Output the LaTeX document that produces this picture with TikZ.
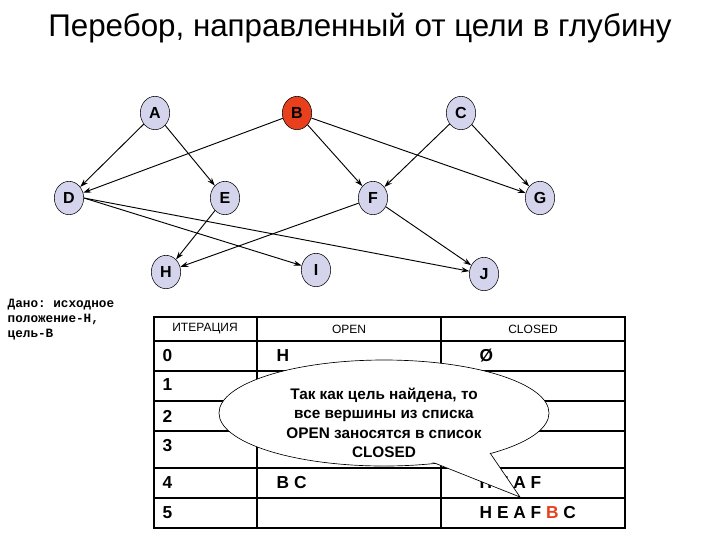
\documentclass[tikz,border=0pt]{standalone}
\usepackage{fontspec}
\setmainfont{Liberation Sans}
\setmonofont{Liberation Mono}
\usetikzlibrary{arrows.meta,shapes.geometric}
\definecolor{nodefill}{HTML}{D4D4EC}
\definecolor{goal}{HTML}{E8401C}
\begin{document}
\begin{tikzpicture}[x=0.75pt,y=-0.75pt,
  vtx/.style={ellipse,draw,fill=nodefill,minimum width=22pt,minimum height=25pt,inner sep=0pt,font=\bfseries\fontsize{12}{12}\selectfont},
  edge/.style={-{Stealth[length=6pt,width=4pt]},line width=0.7pt},
  cell/.style={anchor=west,font=\bfseries\fontsize{13}{13}\selectfont},
  hdr/.style={font=\fontsize{9}{9}\selectfont}]
\useasboundingbox (0,0) rectangle (720,540);
\node (title) at (360,28) {\fontsize{23.5}{26}\selectfont Перебор, направленный от цели в глубину};
\node[vtx] (A) at (155,113) {A};
\node[vtx,fill=goal] (B) at (297,113) {B};
\node[vtx] (C) at (461,113) {C};
\node[vtx] (D) at (69,198) {D};
\node[vtx] (E) at (225,198) {E};
\node[vtx] (F) at (373,198) {F};
\node[vtx] (G) at (540,198) {G};
\node[vtx] (H) at (166,272) {H};
\node[vtx] (I) at (316,270) {I};
\node[vtx] (J) at (484,274) {J};
\draw[edge] (A)--(D); \draw[edge] (A)--(E);
\draw[edge] (B)--(D); \draw[edge] (B)--(F); \draw[edge] (B)--(G);
\draw[edge] (C)--(F); \draw[edge] (C)--(G);
\draw[edge] (D.east)--(I); \draw[edge] (D.east)--(J);
\draw[edge] (E)--(H); \draw[edge] (F)--(H); \draw[edge] (F)--(J);
\node[anchor=north west,align=left,font=\ttfamily\bfseries\fontsize{9.5}{11.5}\selectfont] (given) at (3,294) {Дано: исходное\\положение-Н,\\цель-В};
% table
\draw[line width=1.2pt] (154,317) rectangle (625,528);
\foreach \yy in {341,371,401,431,468,498} \draw[line width=0.8pt] (154,\yy)--(625,\yy);
\draw[line width=0.8pt] (257,317)--(257,528) (441,317)--(441,528);
\node[hdr] (h1) at (205,329) {ИТЕРАЦИЯ};
\node[hdr] (h2) at (349,329) {OPEN};
\node[hdr] (h3) at (533,329) {CLOSED};
\foreach \n/\yy in {0/356,1/385,2/416,3/446,4/483,5/513} \node[cell] (r\n) at (158,\yy) {\n};
\node[cell] (o0) at (272,356) {H};
\node[cell] (c0) at (475,356) {Ø};
\node[cell] (o4) at (272,483) {B C};
\node[cell] (c4) at (475,483) {H E A F};
\node[cell] (c5) at (475,513) {H E A F \textcolor{goal}{B} C};
% callout
\coordinate (tip) at (520,497);
\draw[fill=white,line width=0.5pt] (384,413) ellipse [x radius=165,y radius=53];
\draw[fill=white,line width=0.5pt] (488,450)--(tip)--(432,462);
\fill[white] (384,413) ellipse [x radius=164,y radius=52];
\node[align=center,font=\bfseries\fontsize{11.5}{14.5}\selectfont] (note) at (384,423) {Так как цель найдена, то\\все вершины из списка\\OPEN заносятся в список\\CLOSED};
\end{tikzpicture}
\end{document}
